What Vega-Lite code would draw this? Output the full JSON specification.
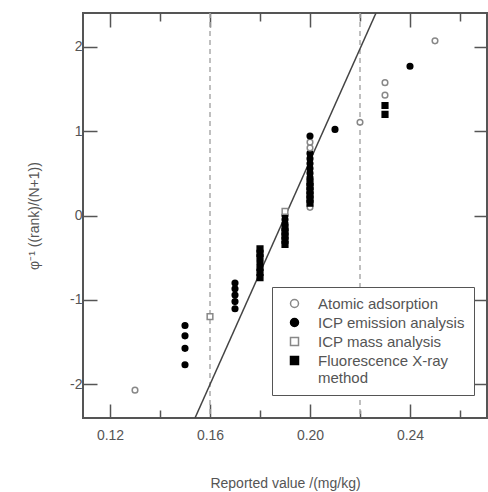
{
  "$schema": "https://vega.github.io/schema/vega-lite/v6.json",
  "width": 404,
  "height": 405,
  "autosize": {"type": "none"},
  "padding": {"left": 83, "top": 13, "right": 1, "bottom": 74},
  "config": {
    "view": {"stroke": "#555", "strokeWidth": 2},
    "font": "Liberation Sans",
    "axis": {"labelFont": "Liberation Sans", "titleFont": "Liberation Sans", "labelColor": "#555", "titleColor": "#555", "tickColor": "#555", "tickWidth": 1.5, "labelFontSize": 14, "titleFontSize": 14, "titleFontWeight": "normal", "grid": false, "domain": false}
  },
  "resolve": {"axis": {"x": "independent", "y": "independent"}},
  "layer": [
    {
      "data": {"values": [{"ref": 0.16}, {"ref": 0.22}]},
      "mark": {"type": "rule", "color": "#aaa", "strokeWidth": 1.5, "strokeDash": [5, 4]},
      "encoding": {
        "x": {"field": "ref", "type": "quantitative", "axis": null, "scale": {"domain": [0.1092, 0.2708], "nice": false, "zero": false}}
      }
    },
    {
      "data": {"values": [{"x": 0.154, "y": -2.4}, {"x": 0.2264, "y": 2.4}]},
      "mark": {"type": "line", "color": "#444", "strokeWidth": 1.5, "clip": true},
      "encoding": {
        "x": {"field": "x", "type": "quantitative", "scale": {"domain": [0.1092, 0.2708], "nice": false, "zero": false},
          "axis": {"orient": "top", "values": [0.12, 0.14, 0.16, 0.18, 0.2, 0.22, 0.24, 0.26], "labels": false, "title": null,
            "tickSize": {"condition": {"test": "round(datum.value*100)%4==0", "value": -14}, "value": -8}}},
        "y": {"field": "y", "type": "quantitative", "scale": {"domain": [-2.4, 2.4], "nice": false, "zero": false},
          "axis": {"orient": "right", "values": [-2, -1, 0, 1, 2], "labels": false, "title": null, "tickSize": -13}}
      }
    },
    {
      "data": {"values": [
        {"x": 0.13, "y": -2.070, "method": "Atomic adsorption"},
        {"x": 0.15, "y": -1.769, "method": "ICP emission analysis"},
        {"x": 0.15, "y": -1.574, "method": "ICP emission analysis"},
        {"x": 0.15, "y": -1.426, "method": "ICP emission analysis"},
        {"x": 0.15, "y": -1.304, "method": "ICP emission analysis"},
        {"x": 0.16, "y": -1.198, "method": "ICP mass analysis"},
        {"x": 0.17, "y": -1.105, "method": "ICP emission analysis"},
        {"x": 0.17, "y": -1.020, "method": "ICP emission analysis"},
        {"x": 0.17, "y": -0.942, "method": "ICP emission analysis"},
        {"x": 0.17, "y": -0.869, "method": "ICP emission analysis"},
        {"x": 0.17, "y": -0.801, "method": "ICP emission analysis"},
        {"x": 0.18, "y": -0.736, "method": "Fluorescence X-ray method"},
        {"x": 0.18, "y": -0.674, "method": "Fluorescence X-ray method"},
        {"x": 0.18, "y": -0.615, "method": "Fluorescence X-ray method"},
        {"x": 0.18, "y": -0.558, "method": "ICP emission analysis"},
        {"x": 0.18, "y": -0.502, "method": "Fluorescence X-ray method"},
        {"x": 0.18, "y": -0.448, "method": "Fluorescence X-ray method"},
        {"x": 0.18, "y": -0.396, "method": "Fluorescence X-ray method"},
        {"x": 0.19, "y": -0.344, "method": "Fluorescence X-ray method"},
        {"x": 0.19, "y": -0.293, "method": "Fluorescence X-ray method"},
        {"x": 0.19, "y": -0.243, "method": "Fluorescence X-ray method"},
        {"x": 0.19, "y": -0.194, "method": "Fluorescence X-ray method"},
        {"x": 0.19, "y": -0.145, "method": "Fluorescence X-ray method"},
        {"x": 0.19, "y": -0.097, "method": "ICP emission analysis"},
        {"x": 0.19, "y": -0.048, "method": "ICP emission analysis"},
        {"x": 0.19, "y": 0.0, "method": "ICP emission analysis"},
        {"x": 0.19, "y": 0.048, "method": "ICP mass analysis"},
        {"x": 0.20, "y": 0.097, "method": "Atomic adsorption"},
        {"x": 0.20, "y": 0.145, "method": "Fluorescence X-ray method"},
        {"x": 0.20, "y": 0.194, "method": "Fluorescence X-ray method"},
        {"x": 0.20, "y": 0.243, "method": "Fluorescence X-ray method"},
        {"x": 0.20, "y": 0.293, "method": "Fluorescence X-ray method"},
        {"x": 0.20, "y": 0.344, "method": "Fluorescence X-ray method"},
        {"x": 0.20, "y": 0.396, "method": "Fluorescence X-ray method"},
        {"x": 0.20, "y": 0.448, "method": "ICP emission analysis"},
        {"x": 0.20, "y": 0.502, "method": "ICP emission analysis"},
        {"x": 0.20, "y": 0.558, "method": "ICP emission analysis"},
        {"x": 0.20, "y": 0.615, "method": "ICP emission analysis"},
        {"x": 0.20, "y": 0.674, "method": "ICP emission analysis"},
        {"x": 0.20, "y": 0.736, "method": "ICP emission analysis"},
        {"x": 0.20, "y": 0.801, "method": "Atomic adsorption"},
        {"x": 0.20, "y": 0.869, "method": "Atomic adsorption"},
        {"x": 0.20, "y": 0.942, "method": "ICP emission analysis"},
        {"x": 0.21, "y": 1.020, "method": "ICP emission analysis"},
        {"x": 0.22, "y": 1.105, "method": "Atomic adsorption"},
        {"x": 0.23, "y": 1.198, "method": "Fluorescence X-ray method"},
        {"x": 0.23, "y": 1.304, "method": "Fluorescence X-ray method"},
        {"x": 0.23, "y": 1.426, "method": "Atomic adsorption"},
        {"x": 0.23, "y": 1.574, "method": "Atomic adsorption"},
        {"x": 0.24, "y": 1.769, "method": "ICP emission analysis"},
        {"x": 0.25, "y": 2.070, "method": "Atomic adsorption"}
      ]},
      "mark": {"type": "point", "filled": true, "size": 32, "strokeWidth": 1.5, "opacity": 1},
      "encoding": {
        "x": {"field": "x", "type": "quantitative", "scale": {"domain": [0.1092, 0.2708], "nice": false, "zero": false},
          "axis": {"orient": "bottom", "values": [0.12, 0.14, 0.16, 0.18, 0.2, 0.22, 0.24, 0.26],
            "labelExpr": "round(datum.value*100)%4==0 ? format(datum.value, '.2f') : ''",
            "tickSize": {"condition": {"test": "round(datum.value*100)%4==0", "value": -14}, "value": -8},
            "labelPadding": 24, "title": "Reported value /(mg/kg)", "titlePadding": 34}},
        "y": {"field": "y", "type": "quantitative", "scale": {"domain": [-2.4, 2.4], "nice": false, "zero": false},
          "axis": {"orient": "left", "values": [-2, -1, 0, 1, 2], "tickSize": -14, "labelPadding": 15,
            "labelExpr": "datum.value < 0 ? '-' + abs(datum.value) : '' + datum.value",
            "title": "φ⁻¹ ((rank)/(N+1))", "titlePadding": 28}},
        "shape": {"field": "method", "type": "nominal",
          "scale": {"domain": ["Atomic adsorption", "ICP emission analysis", "ICP mass analysis", "Fluorescence X-ray method"], "range": ["circle", "circle", "square", "square"]},
          "legend": {"orient": "none", "legendX": 189, "legendY": 274, "title": null, "strokeColor": "#555", "fillColor": "white", "padding": 9,
            "labelFont": "Liberation Sans", "labelFontSize": 15, "labelColor": "#555", "labelLimit": 300, "symbolSize": 64, "symbolStrokeWidth": 1.5, "rowPadding": 3, "labelOffset": 16, "symbolOffset": 6,
            "labelExpr": "datum.label == 'Fluorescence X-ray method' ? ['Fluorescence X-ray', 'method'] : datum.label"}},
        "fill": {"field": "method", "type": "nominal",
          "scale": {"domain": ["Atomic adsorption", "ICP emission analysis", "ICP mass analysis", "Fluorescence X-ray method"], "range": ["white", "black", "white", "black"]}},
        "stroke": {"field": "method", "type": "nominal",
          "scale": {"domain": ["Atomic adsorption", "ICP emission analysis", "ICP mass analysis", "Fluorescence X-ray method"], "range": ["#888", "black", "#888", "black"]}}
      }
    }
  ]
}
